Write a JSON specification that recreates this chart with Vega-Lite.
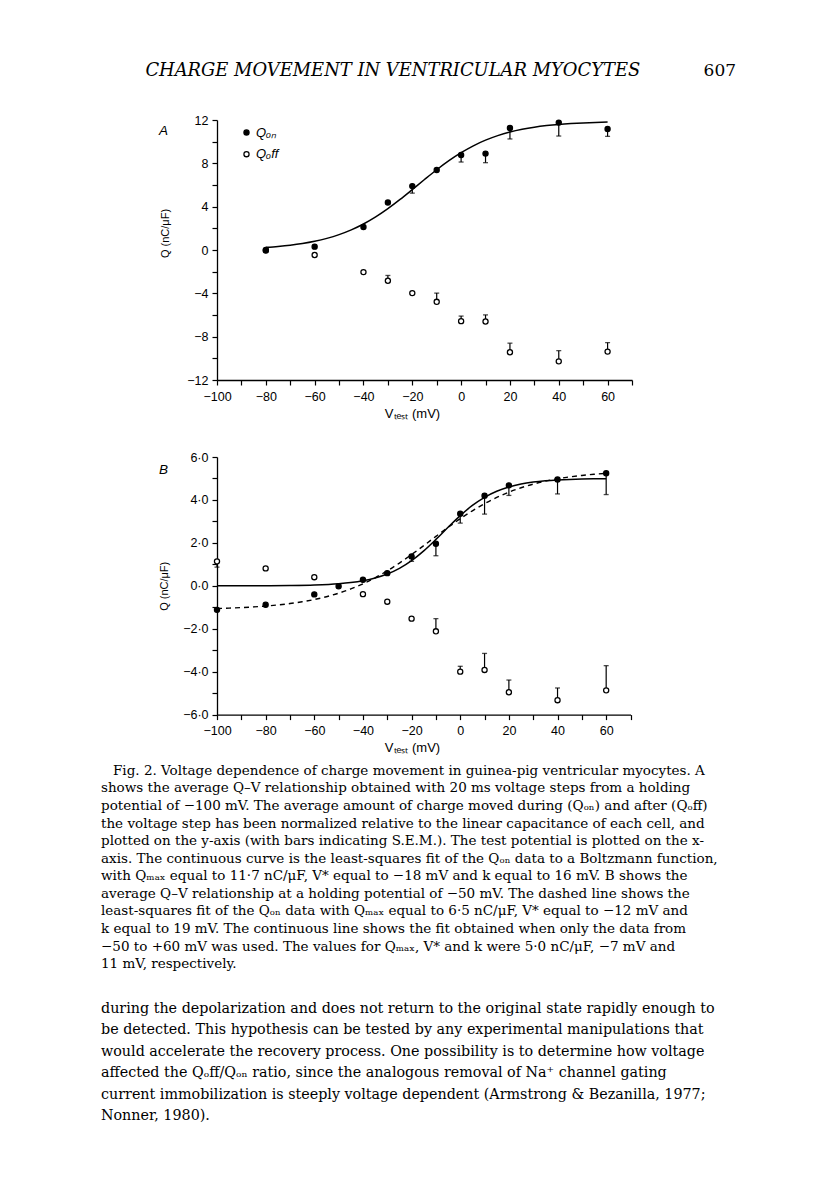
{
  "$schema": "https://vega.github.io/schema/vega-lite/v6.json",
  "background": "white",
  "padding": {"left": 100, "top": 61, "right": 0, "bottom": 0},
  "columns": 3,
  "spacing": 0,
  "bounds": "flush",
  "resolve": {"scale": {"fill": "independent"}, "legend": {"fill": "independent"}},
  "config": {
    "view": {"stroke": null},
    "axis": {
      "domainColor": "black", "domainWidth": 1.3, "tickColor": "black", "tickWidth": 1.2, "tickSize": 5,
      "labelFont": "Liberation Sans", "labelFontSize": 12.5, "labelColor": "black",
      "labelOverlap": false, "labelBound": false, "labelFlush": false,
      "titleFont": "Liberation Sans", "titleFontWeight": "normal", "titleColor": "black", "grid": false
    }
  },
  "datasets": {
    "pts": [
      {"panel": "A", "series": "off", "V": -80, "Q": -0.05, "bar": null},
      {"panel": "A", "series": "off", "V": -60, "Q": -0.46, "bar": null},
      {"panel": "A", "series": "off", "V": -40, "Q": -2.04, "bar": null},
      {"panel": "A", "series": "off", "V": -30, "Q": -2.84, "bar": -2.35},
      {"panel": "A", "series": "off", "V": -20, "Q": -3.98, "bar": null},
      {"panel": "A", "series": "off", "V": -10, "Q": -4.78, "bar": -3.98},
      {"panel": "A", "series": "off", "V": 0, "Q": -6.57, "bar": -6.1},
      {"panel": "A", "series": "off", "V": 10, "Q": -6.6, "bar": -5.99},
      {"panel": "A", "series": "off", "V": 20, "Q": -9.44, "bar": -8.6},
      {"panel": "A", "series": "off", "V": 40, "Q": -10.28, "bar": -9.29},
      {"panel": "A", "series": "off", "V": 60, "Q": -9.38, "bar": -8.55},
      {"panel": "A", "series": "on", "V": -80, "Q": 0.0, "bar": null},
      {"panel": "A", "series": "on", "V": -60, "Q": 0.31, "bar": null},
      {"panel": "A", "series": "on", "V": -40, "Q": 2.13, "bar": null},
      {"panel": "A", "series": "on", "V": -30, "Q": 4.38, "bar": null},
      {"panel": "A", "series": "on", "V": -20, "Q": 5.9, "bar": 5.25},
      {"panel": "A", "series": "on", "V": -10, "Q": 7.38, "bar": null},
      {"panel": "A", "series": "on", "V": 0, "Q": 8.77, "bar": 8.12},
      {"panel": "A", "series": "on", "V": 10, "Q": 8.9, "bar": 8.06},
      {"panel": "A", "series": "on", "V": 20, "Q": 11.27, "bar": 10.25},
      {"panel": "A", "series": "on", "V": 40, "Q": 11.76, "bar": 10.52},
      {"panel": "A", "series": "on", "V": 60, "Q": 11.17, "bar": 10.49},
      {"panel": "B", "series": "off", "V": -100, "Q": 1.14, "bar": 0.87},
      {"panel": "B", "series": "off", "V": -80, "Q": 0.81, "bar": null},
      {"panel": "B", "series": "off", "V": -60, "Q": 0.4, "bar": null},
      {"panel": "B", "series": "off", "V": -40, "Q": -0.39, "bar": null},
      {"panel": "B", "series": "off", "V": -30, "Q": -0.74, "bar": null},
      {"panel": "B", "series": "off", "V": -20, "Q": -1.53, "bar": null},
      {"panel": "B", "series": "off", "V": -10, "Q": -2.12, "bar": -1.53},
      {"panel": "B", "series": "off", "V": 0, "Q": -4.0, "bar": -3.75},
      {"panel": "B", "series": "off", "V": 10, "Q": -3.92, "bar": -3.15},
      {"panel": "B", "series": "off", "V": 20, "Q": -4.96, "bar": -4.39},
      {"panel": "B", "series": "off", "V": 40, "Q": -5.33, "bar": -4.76},
      {"panel": "B", "series": "off", "V": 60, "Q": -4.87, "bar": -3.72},
      {"panel": "B", "series": "on", "V": -100, "Q": -1.12, "bar": null},
      {"panel": "B", "series": "on", "V": -80, "Q": -0.88, "bar": null},
      {"panel": "B", "series": "on", "V": -60, "Q": -0.4, "bar": null},
      {"panel": "B", "series": "on", "V": -50, "Q": -0.02, "bar": null},
      {"panel": "B", "series": "on", "V": -40, "Q": 0.28, "bar": null},
      {"panel": "B", "series": "on", "V": -30, "Q": 0.59, "bar": null},
      {"panel": "B", "series": "on", "V": -20, "Q": 1.37, "bar": 1.14},
      {"panel": "B", "series": "on", "V": -10, "Q": 1.96, "bar": 1.4},
      {"panel": "B", "series": "on", "V": 0, "Q": 3.36, "bar": 2.92},
      {"panel": "B", "series": "on", "V": 10, "Q": 4.2, "bar": 3.34},
      {"panel": "B", "series": "on", "V": 20, "Q": 4.68, "bar": 4.21},
      {"panel": "B", "series": "on", "V": 40, "Q": 4.95, "bar": 4.28},
      {"panel": "B", "series": "on", "V": 60, "Q": 5.24, "bar": 4.25}
    ],
    "fits": [
      {"panel": "A", "fit": "solid", "V": -80, "Q": 0.242},
      {"panel": "A", "fit": "solid", "V": -75, "Q": 0.329},
      {"panel": "A", "fit": "solid", "V": -70, "Q": 0.444},
      {"panel": "A", "fit": "solid", "V": -65, "Q": 0.599},
      {"panel": "A", "fit": "solid", "V": -60, "Q": 0.804},
      {"panel": "A", "fit": "solid", "V": -55, "Q": 1.072},
      {"panel": "A", "fit": "solid", "V": -50, "Q": 1.419},
      {"panel": "A", "fit": "solid", "V": -45, "Q": 1.857},
      {"panel": "A", "fit": "solid", "V": -40, "Q": 2.401},
      {"panel": "A", "fit": "solid", "V": -35, "Q": 3.056},
      {"panel": "A", "fit": "solid", "V": -30, "Q": 3.818},
      {"panel": "A", "fit": "solid", "V": -25, "Q": 4.669},
      {"panel": "A", "fit": "solid", "V": -20, "Q": 5.579},
      {"panel": "A", "fit": "solid", "V": -15, "Q": 6.506},
      {"panel": "A", "fit": "solid", "V": -10, "Q": 7.408},
      {"panel": "A", "fit": "solid", "V": -5, "Q": 8.243},
      {"panel": "A", "fit": "solid", "V": 0, "Q": 8.983},
      {"panel": "A", "fit": "solid", "V": 5, "Q": 9.617},
      {"panel": "A", "fit": "solid", "V": 10, "Q": 10.138},
      {"panel": "A", "fit": "solid", "V": 15, "Q": 10.558},
      {"panel": "A", "fit": "solid", "V": 20, "Q": 10.888},
      {"panel": "A", "fit": "solid", "V": 25, "Q": 11.141},
      {"panel": "A", "fit": "solid", "V": 30, "Q": 11.336},
      {"panel": "A", "fit": "solid", "V": 35, "Q": 11.482},
      {"panel": "A", "fit": "solid", "V": 40, "Q": 11.592},
      {"panel": "A", "fit": "solid", "V": 45, "Q": 11.672},
      {"panel": "A", "fit": "solid", "V": 50, "Q": 11.732},
      {"panel": "A", "fit": "solid", "V": 55, "Q": 11.777},
      {"panel": "A", "fit": "solid", "V": 60, "Q": 11.81},
      {"panel": "B", "fit": "dashed", "V": -100, "Q": -1.057},
      {"panel": "B", "fit": "dashed", "V": -95, "Q": -1.039},
      {"panel": "B", "fit": "dashed", "V": -90, "Q": -1.015},
      {"panel": "B", "fit": "dashed", "V": -85, "Q": -0.984},
      {"panel": "B", "fit": "dashed", "V": -80, "Q": -0.944},
      {"panel": "B", "fit": "dashed", "V": -75, "Q": -0.892},
      {"panel": "B", "fit": "dashed", "V": -70, "Q": -0.827},
      {"panel": "B", "fit": "dashed", "V": -65, "Q": -0.744},
      {"panel": "B", "fit": "dashed", "V": -60, "Q": -0.639},
      {"panel": "B", "fit": "dashed", "V": -55, "Q": -0.508},
      {"panel": "B", "fit": "dashed", "V": -50, "Q": -0.345},
      {"panel": "B", "fit": "dashed", "V": -45, "Q": -0.147},
      {"panel": "B", "fit": "dashed", "V": -40, "Q": 0.091},
      {"panel": "B", "fit": "dashed", "V": -35, "Q": 0.373},
      {"panel": "B", "fit": "dashed", "V": -30, "Q": 0.696},
      {"panel": "B", "fit": "dashed", "V": -25, "Q": 1.06},
      {"panel": "B", "fit": "dashed", "V": -20, "Q": 1.455},
      {"panel": "B", "fit": "dashed", "V": -15, "Q": 1.874},
      {"panel": "B", "fit": "dashed", "V": -10, "Q": 2.301},
      {"panel": "B", "fit": "dashed", "V": -5, "Q": 2.721},
      {"panel": "B", "fit": "dashed", "V": 0, "Q": 3.124},
      {"panel": "B", "fit": "dashed", "V": 5, "Q": 3.494},
      {"panel": "B", "fit": "dashed", "V": 10, "Q": 3.826},
      {"panel": "B", "fit": "dashed", "V": 15, "Q": 4.116},
      {"panel": "B", "fit": "dashed", "V": 20, "Q": 4.362},
      {"panel": "B", "fit": "dashed", "V": 25, "Q": 4.568},
      {"panel": "B", "fit": "dashed", "V": 30, "Q": 4.738},
      {"panel": "B", "fit": "dashed", "V": 35, "Q": 4.875},
      {"panel": "B", "fit": "dashed", "V": 40, "Q": 4.984},
      {"panel": "B", "fit": "dashed", "V": 45, "Q": 5.072},
      {"panel": "B", "fit": "dashed", "V": 50, "Q": 5.14},
      {"panel": "B", "fit": "dashed", "V": 55, "Q": 5.194},
      {"panel": "B", "fit": "dashed", "V": 60, "Q": 5.236},
      {"panel": "B", "fit": "solid", "V": -100, "Q": 0.001},
      {"panel": "B", "fit": "solid", "V": -90, "Q": 0.003},
      {"panel": "B", "fit": "solid", "V": -80, "Q": 0.007},
      {"panel": "B", "fit": "solid", "V": -70, "Q": 0.016},
      {"panel": "B", "fit": "solid", "V": -60, "Q": 0.04},
      {"panel": "B", "fit": "solid", "V": -50, "Q": 0.098},
      {"panel": "B", "fit": "solid", "V": -45, "Q": 0.153},
      {"panel": "B", "fit": "solid", "V": -40, "Q": 0.237},
      {"panel": "B", "fit": "solid", "V": -35, "Q": 0.364},
      {"panel": "B", "fit": "solid", "V": -30, "Q": 0.55},
      {"panel": "B", "fit": "solid", "V": -25, "Q": 0.815},
      {"panel": "B", "fit": "solid", "V": -20, "Q": 1.174},
      {"panel": "B", "fit": "solid", "V": -15, "Q": 1.629},
      {"panel": "B", "fit": "solid", "V": -10, "Q": 2.161},
      {"panel": "B", "fit": "solid", "V": -5, "Q": 2.726},
      {"panel": "B", "fit": "solid", "V": 0, "Q": 3.27},
      {"panel": "B", "fit": "solid", "V": 5, "Q": 3.743},
      {"panel": "B", "fit": "solid", "V": 10, "Q": 4.121},
      {"panel": "B", "fit": "solid", "V": 15, "Q": 4.404},
      {"panel": "B", "fit": "solid", "V": 20, "Q": 4.604},
      {"panel": "B", "fit": "solid", "V": 25, "Q": 4.742},
      {"panel": "B", "fit": "solid", "V": 30, "Q": 4.833},
      {"panel": "B", "fit": "solid", "V": 35, "Q": 4.893},
      {"panel": "B", "fit": "solid", "V": 40, "Q": 4.931},
      {"panel": "B", "fit": "solid", "V": 45, "Q": 4.956},
      {"panel": "B", "fit": "solid", "V": 50, "Q": 4.972},
      {"panel": "B", "fit": "solid", "V": 55, "Q": 4.982},
      {"panel": "B", "fit": "solid", "V": 60, "Q": 4.989}
    ],
    "caption": [
      {"line": 1, "text": "Fig. 2. Voltage dependence of charge movement in guinea-pig ventricular myocytes. A"},
      {"line": 2, "text": "shows the average Q–V relationship obtained with 20 ms voltage steps from a holding"},
      {"line": 3, "text": "potential of −100 mV. The average amount of charge moved during (Qₒₙ) and after (Qₒff)"},
      {"line": 4, "text": "the voltage step has been normalized relative to the linear capacitance of each cell, and"},
      {"line": 5, "text": "plotted on the y-axis (with bars indicating S.E.M.). The test potential is plotted on the x-"},
      {"line": 6, "text": "axis. The continuous curve is the least-squares fit of the Qₒₙ data to a Boltzmann function,"},
      {"line": 7, "text": "with Qₘₐₓ equal to 11·7 nC/μF, V* equal to −18 mV and k equal to 16 mV. B shows the"},
      {"line": 8, "text": "average Q–V relationship at a holding potential of −50 mV. The dashed line shows the"},
      {"line": 9, "text": "least-squares fit of the Qₒₙ data with Qₘₐₓ equal to 6·5 nC/μF, V* equal to −12 mV and"},
      {"line": 10, "text": "k equal to 19 mV. The continuous line shows the fit obtained when only the data from"},
      {"line": 11, "text": "−50 to +60 mV was used. The values for Qₘₐₓ, V* and k were 5·0 nC/μF, −7 mV and"},
      {"line": 12, "text": "11 mV, respectively."}
    ],
    "body": [
      {"line": 1, "text": "during the depolarization and does not return to the original state rapidly enough to"},
      {"line": 2, "text": "be detected. This hypothesis can be tested by any experimental manipulations that"},
      {"line": 3, "text": "would accelerate the recovery process. One possibility is to determine how voltage"},
      {"line": 4, "text": "affected the Qₒff/Qₒₙ ratio, since the analogous removal of Na⁺ channel gating"},
      {"line": 5, "text": "current immobilization is steeply voltage dependent (Armstrong & Bezanilla, 1977;"},
      {"line": 6, "text": "Nonner, 1980)."}
    ]
  },
  "concat": [
    {"width": 116.7, "height": 1, "mark": "point", "data": {"values": []}},
    {"width": 351.6, "height": 20, "data": {"values": [{"t": "CHARGE MOVEMENT IN VENTRICULAR MYOCYTES"}]},
     "mark": {"type": "text", "font": "DejaVu Serif", "fontStyle": "italic", "fontSize": 17.9, "align": "center", "baseline": "middle", "color": "black"},
     "encoding": {"text": {"field": "t"}}},
    {"width": 175.6, "height": 20, "data": {"values": [{"t": "607"}]},
     "mark": {"type": "text", "font": "DejaVu Serif", "fontSize": 17, "align": "center", "baseline": "middle", "color": "black"},
     "encoding": {"text": {"field": "t"}}},

    {"width": 1, "height": 38.3, "mark": "point", "data": {"values": []}},
    {"width": 1, "height": 1, "mark": "point", "data": {"values": []}},
    {"width": 1, "height": 1, "mark": "point", "data": {"values": []}},

    {"width": 1, "height": 1, "mark": "point", "data": {"values": []}},
    {
      "width": 415, "height": 260,
      "title": {"text": "A", "anchor": "start", "frame": "group", "orient": "top", "offset": 0, "dx": -58, "dy": 34, "font": "Liberation Sans", "fontStyle": "italic", "fontSize": 13.5, "fontWeight": "normal", "baseline": "alphabetic", "color": "black"},
      "encoding": {
        "x": {"field": "V", "type": "quantitative", "scale": {"domain": [-100, 70], "nice": false, "zero": false},
              "axis": {"values": [-100, -90, -80, -70, -60, -50, -40, -30, -20, -10, 0, 10, 20, 30, 40, 50, 60, 70], "format": "d", "labelExpr": "datum.value % 20 === 0 ? datum.label : ''", "labelPadding": 5, "title": "Vₜₑₛₜ (mV)", "titleFontSize": 13, "titleX": 195, "titleY": 27}},
        "y": {"field": "Q", "type": "quantitative", "scale": {"domain": [-12, 12], "nice": false, "zero": false},
              "axis": {"values": [-12, -10, -8, -6, -4, -2, 0, 2, 4, 6, 8, 10, 12], "format": "d", "labelExpr": "datum.value % 4 === 0 ? datum.label : ''", "labelPadding": 4, "title": "Q (nC/μF)", "titleFontSize": 11, "titleX": -47, "titleY": 113}}
      },
      "layer": [
        {"data": {"name": "fits"}, "transform": [{"filter": "datum.panel === 'A'"}],
         "mark": {"type": "line", "color": "black", "strokeWidth": 1.5, "interpolate": "monotone"}},
        {"data": {"name": "pts"}, "transform": [{"filter": "datum.panel === 'A' && datum.bar != null"}],
         "mark": {"type": "rule", "color": "black", "strokeWidth": 1.2},
         "encoding": {"y2": {"field": "bar"}}},
        {"data": {"name": "pts"}, "transform": [{"filter": "datum.panel === 'A' && datum.bar != null"}],
         "mark": {"type": "tick", "orient": "horizontal", "color": "black", "size": 5, "thickness": 1.3},
         "encoding": {"y": {"field": "bar", "type": "quantitative", "scale": {"domain": [-12, 12], "nice": false, "zero": false},
              "axis": {"values": [-12, -10, -8, -6, -4, -2, 0, 2, 4, 6, 8, 10, 12], "format": "d", "labelExpr": "datum.value % 4 === 0 ? datum.label : ''", "labelPadding": 4, "title": "Q (nC/μF)", "titleFontSize": 11, "titleX": -47, "titleY": 113}}}},
        {"data": {"name": "pts"}, "transform": [{"filter": "datum.panel === 'A'"}],
         "mark": {"type": "point", "shape": "circle", "size": 26, "stroke": "black", "strokeWidth": 1.3, "opacity": 1},
         "encoding": {"fill": {"field": "series", "type": "nominal", "scale": {"domain": ["on", "off"], "range": ["black", "white"]},
           "legend": {"title": null, "orient": "none", "legendX": 23, "legendY": 6, "padding": 0, "labelExpr": "datum.label === 'on' ? 'Qₒₙ' : 'Qₒff'", "labelFont": "Liberation Sans", "labelFontStyle": "italic", "labelFontSize": 13, "labelColor": "black", "symbolType": "circle", "symbolSize": 26, "symbolStrokeColor": "black", "symbolStrokeWidth": 1.3, "symbolOpacity": 1, "rowPadding": 7.7, "labelOffset": 3}}}}
      ]
    },
    {"width": 1, "height": 1, "mark": "point", "data": {"values": []}},

    {"width": 1, "height": 76.4, "mark": "point", "data": {"values": []}},
    {"width": 1, "height": 1, "mark": "point", "data": {"values": []}},
    {"width": 1, "height": 1, "mark": "point", "data": {"values": []}},

    {"width": 1, "height": 1, "mark": "point", "data": {"values": []}},
    {
      "width": 413.5, "height": 257.6,
      "title": {"text": "B", "anchor": "start", "frame": "group", "orient": "top", "offset": 0, "dx": -58, "dy": 36, "font": "Liberation Sans", "fontStyle": "italic", "fontSize": 13.5, "fontWeight": "normal", "baseline": "alphabetic", "color": "black"},
      "encoding": {
        "x": {"field": "V", "type": "quantitative", "scale": {"domain": [-100, 70], "nice": false, "zero": false},
              "axis": {"values": [-100, -90, -80, -70, -60, -50, -40, -30, -20, -10, 0, 10, 20, 30, 40, 50, 60, 70], "format": "d", "labelExpr": "datum.value % 20 === 0 ? datum.label : ''", "labelPadding": 5, "title": "Vₜₑₛₜ (mV)", "titleFontSize": 13, "titleX": 195, "titleY": 27}},
        "y": {"field": "Q", "type": "quantitative", "scale": {"domain": [-6, 6], "nice": false, "zero": false},
              "axis": {"values": [-6, -5, -4, -3, -2, -1, 0, 1, 2, 3, 4, 5, 6], "labelExpr": "datum.value % 2 === 0 ? replace(format(datum.value, '.1f'), '.', '·') : ''", "labelPadding": 4, "title": "Q (nC/μF)", "titleFontSize": 11, "titleX": -48}}
      },
      "layer": [
        {"data": {"name": "fits"}, "transform": [{"filter": "datum.panel === 'B' && datum.fit === 'solid'"}],
         "mark": {"type": "line", "color": "black", "strokeWidth": 1.5, "interpolate": "monotone"}},
        {"data": {"name": "fits"}, "transform": [{"filter": "datum.panel === 'B' && datum.fit === 'dashed'"}],
         "mark": {"type": "line", "color": "black", "strokeWidth": 1.4, "strokeDash": [5, 4], "interpolate": "monotone"}},
        {"data": {"name": "pts"}, "transform": [{"filter": "datum.panel === 'B' && datum.bar != null"}],
         "mark": {"type": "rule", "color": "black", "strokeWidth": 1.2},
         "encoding": {"y2": {"field": "bar"}}},
        {"data": {"name": "pts"}, "transform": [{"filter": "datum.panel === 'B' && datum.bar != null"}],
         "mark": {"type": "tick", "orient": "horizontal", "color": "black", "size": 5, "thickness": 1.3},
         "encoding": {"y": {"field": "bar", "type": "quantitative", "scale": {"domain": [-6, 6], "nice": false, "zero": false},
              "axis": {"values": [-6, -5, -4, -3, -2, -1, 0, 1, 2, 3, 4, 5, 6], "labelExpr": "datum.value % 2 === 0 ? replace(format(datum.value, '.1f'), '.', '·') : ''", "labelPadding": 4, "title": "Q (nC/μF)", "titleFontSize": 11, "titleX": -48}}}},
        {"data": {"name": "pts"}, "transform": [{"filter": "datum.panel === 'B'"}],
         "mark": {"type": "point", "shape": "circle", "size": 26, "stroke": "black", "strokeWidth": 1.3, "opacity": 1},
         "encoding": {"fill": {"field": "series", "type": "nominal", "scale": {"domain": ["on", "off"], "range": ["black", "white"]}, "legend": null}}}
      ]
    },
    {"width": 1, "height": 1, "mark": "point", "data": {"values": []}},

    {"width": 1, "height": 46.2, "mark": "point", "data": {"values": []}},
    {"width": 1, "height": 1, "mark": "point", "data": {"values": []}},
    {"width": 1, "height": 1, "mark": "point", "data": {"values": []}},

    {"width": 2, "height": 211, "data": {"name": "caption"},
     "encoding": {"y": {"field": "line", "type": "ordinal", "axis": null}, "text": {"field": "text"}},
     "layer": [
       {"transform": [{"filter": "datum.line === 1"}],
        "mark": {"type": "text", "align": "left", "baseline": "middle", "font": "DejaVu Serif", "fontSize": 13.5, "color": "black", "dx": 12}},
       {"transform": [{"filter": "datum.line > 1"}],
        "mark": {"type": "text", "align": "left", "baseline": "middle", "font": "DejaVu Serif", "fontSize": 13.5, "color": "black"}}
     ]},
    {"width": 1, "height": 1, "mark": "point", "data": {"values": []}},
    {"width": 1, "height": 1, "mark": "point", "data": {"values": []}},

    {"width": 1, "height": 24.25, "mark": "point", "data": {"values": []}},
    {"width": 1, "height": 1, "mark": "point", "data": {"values": []}},
    {"width": 1, "height": 1, "mark": "point", "data": {"values": []}},

    {"width": 2, "height": 129, "data": {"name": "body"},
     "mark": {"type": "text", "align": "left", "baseline": "middle", "font": "DejaVu Serif", "fontSize": 14.3, "color": "black"},
     "encoding": {"y": {"field": "line", "type": "ordinal", "axis": null}, "text": {"field": "text"}}},
    {"width": 1, "height": 1, "mark": "point", "data": {"values": []}},
    {"width": 1, "height": 1, "mark": "point", "data": {"values": []}}
  ]
}
